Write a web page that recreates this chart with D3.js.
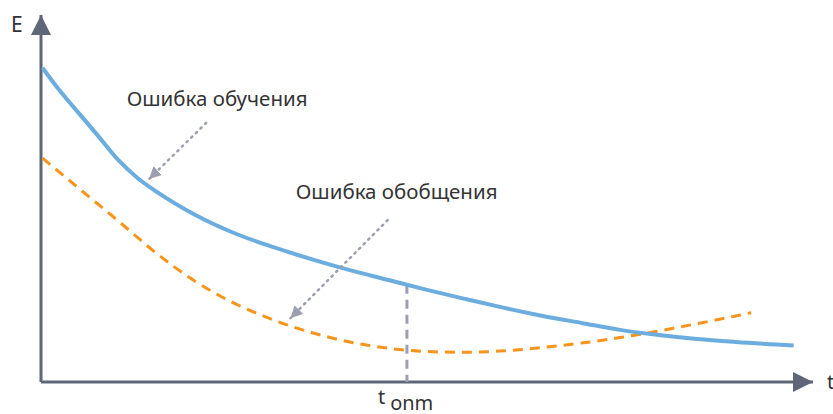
<!DOCTYPE html>
<html>
<head>
<meta charset="utf-8">
<script src="https://cdn.jsdelivr.net/npm/d3@7"></script>
<style>
  body { margin: 0; background: #fff; }
  text { font-family: "Noto Sans", sans-serif; fill: #333; }
</style>
</head>
<body>
<div id="chart"></div>
<script>
// training error (blue, solid)
var trainT = [0.02, 0.25, 0.5, 0.75, 1.0, 1.25, 1.5, 2, 2.5, 3, 3.5, 4, 4.5, 5, 5.5, 6, 6.5, 7, 7.5, 8, 8.5, 9, 9.75];
var trainE = [8.56, 7.92, 7.30, 6.68, 6.05, 5.56, 5.18, 4.55, 4.06, 3.68, 3.35, 3.05, 2.78, 2.51, 2.26, 2.02, 1.80, 1.61, 1.42, 1.28, 1.17, 1.09, 0.995];

// generalization error (orange, dashed)
var genT = [0.02, 0.5, 1, 1.5, 2, 2.5, 3, 3.5, 4, 4.5, 5, 5.5, 6, 6.5, 7, 7.5, 8, 8.5, 9, 9.2];
var genE = [6.10, 5.26, 4.39, 3.50, 2.74, 2.15, 1.70, 1.35, 1.09, 0.92, 0.83, 0.81, 0.85, 0.94, 1.06, 1.21, 1.39, 1.59, 1.80, 1.89];

var tOpt = 4.74;

var labels = ["Ошибка обучения", "Ошибка обобщения"];
var labelPos = [[1.11, 7.52], [3.30, 4.99]];
var pointerFrom = [[2.14, 7.06], [4.49, 4.41]];
var pointerTo = [[1.40, 5.53], [3.23, 1.74]];

window.onload = function(){
	var w = 833, h = 414;

	var svg = d3.select("#chart")
		.append("svg")
		.attr("width", w)
		.attr("height", h);

	var x = d3.scaleLinear().domain([0, 10]).range([41, 813]);
	var y = d3.scaleLinear().domain([0, 10]).range([382, 15]);

	var defs = svg.append("defs");
	defs.append("marker")
		.attr("id", "axis-head")
		.attr("viewBox", "0 0 20 20")
		.attr("refX", 20).attr("refY", 10)
		.attr("markerWidth", 20).attr("markerHeight", 20)
		.attr("markerUnits", "userSpaceOnUse")
		.attr("orient", "auto")
		.append("path")
			.attr("d", "M0,0 L20,10 L0,20 Z")
			.attr("fill", "#5e6678");
	defs.append("marker")
		.attr("id", "pointer-head")
		.attr("viewBox", "0 0 12 12")
		.attr("refX", 12).attr("refY", 6)
		.attr("markerWidth", 12).attr("markerHeight", 12)
		.attr("markerUnits", "userSpaceOnUse")
		.attr("orient", "auto")
		.append("path")
			.attr("d", "M0,0 L12,6 L0,12 Z")
			.attr("fill", "#9c9fb0");

	var line = d3.line()
		.x(function(d){ return x(d[0]); })
		.y(function(d){ return y(d[1]); })
		.curve(d3.curveMonotoneX);

	// axes
	svg.append("line")
		.attr("x1", x(0)).attr("y1", y(0))
		.attr("x2", x(10)).attr("y2", y(0))
		.attr("stroke", "#5e6678").attr("stroke-width", 3)
		.attr("marker-end", "url(#axis-head)");
	svg.append("line")
		.attr("x1", x(0)).attr("y1", y(0))
		.attr("x2", x(0)).attr("y2", y(10))
		.attr("stroke", "#5e6678").attr("stroke-width", 3)
		.attr("marker-end", "url(#axis-head)");

	svg.append("text").attr("x", 11).attr("y", 32)
		.style("font-size", "21px").text("E");
	svg.append("text").attr("x", 827).attr("y", 389)
		.style("font-size", "20px").text("t");

	// optimum marker
	var eOpt = d3.scaleLinear().domain(trainT).range(trainE)(tOpt);
	svg.append("line")
		.attr("x1", x(tOpt)).attr("y1", y(eOpt))
		.attr("x2", x(tOpt)).attr("y2", y(0))
		.attr("stroke", "#9c9fb0").attr("stroke-width", 3)
		.attr("stroke-dasharray", "9,6");

	var tl = svg.append("text").attr("x", x(tOpt) - 29).attr("y", 404)
		.style("font-size", "20px");
	tl.append("tspan").text("t");
	tl.append("tspan").attr("dx", 5).attr("dy", 6).text("onm");

	// curves
	svg.append("path")
		.datum(genT.map(function(t, i){ return [t, genE[i]]; }))
		.attr("d", line)
		.attr("fill", "none")
		.attr("stroke", "#f7941d").attr("stroke-width", 3)
		.attr("stroke-dasharray", "10,7");

	svg.append("path")
		.datum(trainT.map(function(t, i){ return [t, trainE[i]]; }))
		.attr("d", line)
		.attr("fill", "none")
		.attr("stroke", "#6cade0").attr("stroke-width", 4);

	// annotations
	svg.selectAll(".pointer")
		.data(pointerFrom)
		.enter().append("line")
			.attr("class", "pointer")
			.attr("x1", function(d){ return x(d[0]); })
			.attr("y1", function(d){ return y(d[1]); })
			.attr("x2", function(d, i){ return x(pointerTo[i][0]); })
			.attr("y2", function(d, i){ return y(pointerTo[i][1]); })
			.attr("stroke", "#9c9fb0").attr("stroke-width", 2.5)
			.attr("stroke-dasharray", "1.5,5")
			.attr("stroke-linecap", "round")
			.attr("marker-end", "url(#pointer-head)");

	svg.selectAll(".label")
		.data(labels)
		.enter().append("text")
			.attr("class", "label")
			.attr("x", function(d, i){ return x(labelPos[i][0]); })
			.attr("y", function(d, i){ return y(labelPos[i][1]); })
			.style("font-size", "20.5px")
			.text(function(d){ return d; });
}
</script>
</body>
</html>
